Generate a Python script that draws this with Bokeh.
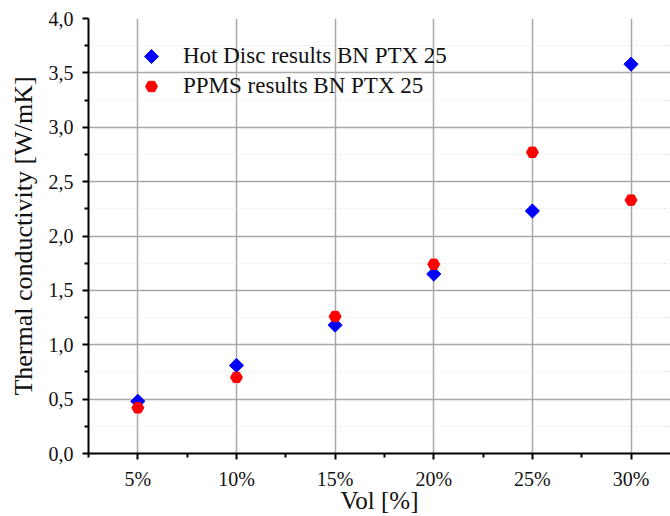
from bokeh.plotting import figure
from bokeh.models import (FixedTicker, CustomJSTickFormatter, Range1d, Legend, LegendItem,
                          ColumnDataSource, PolyAnnotation)
from bokeh.embed import file_html
from bokeh.resources import INLINE
import math

categories = ["5%", "10%", "15%", "20%", "25%", "30%"]
x_vals = [5, 10, 15, 20, 25, 30]
hot_disc = [0.48, 0.81, 1.18, 1.65, 2.23, 3.58]
ppms = [0.42, 0.70, 1.26, 1.74, 2.77, 2.33]
y_ticks = [0.0, 0.5, 1.0, 1.5, 2.0, 2.5, 3.0, 3.5, 4.0]
series_labels = ["Hot Disc results BN PTX 25", "PPMS results BN PTX 25"]

FONT = "Liberation Serif"
BLUE = "#0000ff"
RED = "#ff0000"

W, H = 670, 516
BL, BT, BB, BR = 88, 18, 62, 0
p = figure(width=W, height=H, output_backend="svg", toolbar_location=None,
           x_range=Range1d(2.5, 32.0), y_range=Range1d(0, 4.0),
           min_border_left=BL, min_border_top=BT, min_border_bottom=BB, min_border_right=BR)
p.outline_line_color = None
p.background_fill_color = "white"

src_h = ColumnDataSource(dict(x=x_vals, y=hot_disc))
src_p = ColumnDataSource(dict(x=x_vals, y=ppms))
r1 = p.scatter("x", "y", source=src_h, marker="square", size=10, angle=math.pi / 4,
               fill_color=BLUE, line_color=BLUE)
r2 = p.scatter("x", "y", source=src_p, marker="hex", size=12,
               fill_color=RED, line_color=RED)
# invisible stand-in renderer for the first legend entry (legend glyphs can't be rotated)
r1_leg = p.scatter([], [], marker="square", fill_alpha=0, line_alpha=0)

# x axis
p.xaxis.ticker = FixedTicker(ticks=x_vals, minor_ticks=[2.5, 7.5, 12.5, 17.5, 22.5, 27.5, 32.5])
p.xaxis.major_label_overrides = {x: c for x, c in zip(x_vals, categories)}
p.xaxis.axis_label = "Vol [%]"
# y axis
p.yaxis.ticker = FixedTicker(ticks=y_ticks, minor_ticks=[0.25 + 0.5 * i for i in range(8)])
p.yaxis.formatter = CustomJSTickFormatter(code="return tick.toFixed(1).replace('.', ',');")
p.yaxis.axis_label = "Thermal conductivity [W/mK]"

for ax in (p.xaxis[0], p.yaxis[0]):
    ax.axis_line_color = "black"
    ax.axis_line_width = 2
    ax.major_tick_line_color = "black"
    ax.major_tick_line_width = 2
    ax.minor_tick_line_color = "black"
    ax.minor_tick_line_width = 2
    ax.major_tick_out = 6
    ax.major_tick_in = 0
    ax.minor_tick_out = 4
    ax.minor_tick_in = 0
    ax.major_label_text_font = FONT
    ax.major_label_text_font_size = "20px"
    ax.major_label_text_color = "#111111"
    ax.axis_label_text_font = FONT
    ax.axis_label_text_font_style = "normal"
    ax.axis_label_text_color = "#111111"
p.xaxis.axis_label_text_font_size = "25px"
p.yaxis.axis_label_text_font_size = "26px"
p.xaxis.major_label_standoff = 8
p.yaxis.major_label_standoff = 9
p.xaxis.axis_label_standoff = -6
p.yaxis.axis_label_standoff = 8

# grids
p.xgrid.ticker = FixedTicker(ticks=x_vals)
p.xgrid.grid_line_color = "#a8a8a8"
p.xgrid.grid_line_width = 1.5
p.ygrid.ticker = FixedTicker(ticks=y_ticks[1:-1], minor_ticks=[0.25 + 0.5 * i for i in range(8)])
p.ygrid.grid_line_color = "#a8a8a8"
p.ygrid.grid_line_width = 1.5
p.ygrid.minor_grid_line_color = "#d4d4d4"
p.ygrid.minor_grid_line_dash = "1 3"
p.ygrid.minor_grid_line_width = 1

# legend (location relative to the frame's bottom-left, in pixels)
LEG_X, LEG_Y, ROW_H, GLYPH_W = 48, 352, 30, 30
legend = Legend(items=[LegendItem(label=series_labels[0], renderers=[r1_leg]),
                       LegendItem(label=series_labels[1], renderers=[r2])],
                location=(LEG_X, LEG_Y))
legend.background_fill_alpha = 0
legend.border_line_alpha = 0
legend.label_text_font = FONT
legend.label_text_font_size = "23px"
legend.label_text_color = "#111111"
legend.label_height = ROW_H
legend.glyph_height = ROW_H
legend.glyph_width = GLYPH_W
legend.label_standoff = 17
legend.spacing = 0
legend.padding = 0
legend.margin = 0
p.add_layout(legend, "center")

# rotated-square legend key for the first entry
cx = LEG_X + GLYPH_W / 2
cy = LEG_Y + 2 * ROW_H - ROW_H / 2
hd = 7
key = PolyAnnotation(xs=[cx, cx + hd, cx, cx - hd], ys=[cy + hd, cy, cy - hd, cy],
                     xs_units="screen", ys_units="screen",
                     fill_color=BLUE, fill_alpha=1, line_color=BLUE, line_alpha=1, line_width=1)
p.add_layout(key)

open("out.html", "w").write(file_html(p, INLINE))
